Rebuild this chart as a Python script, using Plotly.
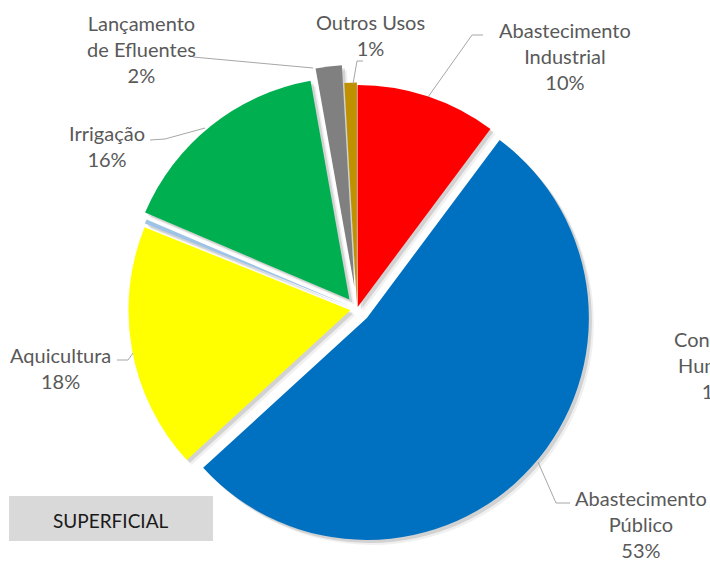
import plotly.graph_objects as go

# ── Data ──────────────────────────────────────────────────────────────────────
usos = [
    "Abastecimento Industrial",
    "Abastecimento Público",
    "Aquicultura",
    "Consumo Humano",
    "Irrigação",
    "Lançamento de Efluentes",
    "Outros Usos",
]
valores = [10.2, 53.0, 17.9, 0.3, 15.8, 1.9, 0.9]
rotulos = [
    "Abastecimento<br>Industrial",
    "Abastecimento<br>Público",
    "Aquicultura",
    "Consumo<br>Humano",
    "Irrigação",
    "Lançamento<br>de Efluentes",
    "Outros Usos",
]
titulo = "SUPERFICIAL"

# ── Style ─────────────────────────────────────────────────────────────────────
CORES = ["#FF0000", "#0070C0", "#FFFF00", "#9DC3E6", "#00B050", "#808080", "#BF9000"]
PULL = [0.01, 0.06, 0.03, 0.03, 0.055, 0.10, 0.02]
C_LABEL = "#595959"
C_LINE = "#A6A6A6"
FONT = "Lato, sans-serif"
W, H = 710, 561

# pie centre / size in px (unexploded radius ~222)
CX, CY, R = 357, 309, 222
HALF = R * (1 + max(PULL))


def dom(dx=0, dy=0):
    return dict(
        x=[(CX - HALF + dx) / W, (CX + HALF + dx) / W],
        y=[1 - (CY + HALF + dy) / H, 1 - (CY - HALF + dy) / H],
    )


def px(x, y):
    return x / W, 1 - y / H


fig = go.Figure()

# soft drop shadow (two offset layers)
for off, alpha in [(5, 0.06), (3, 0.12)]:
    fig.add_trace(go.Pie(
        labels=usos, values=valores, sort=False, direction="clockwise",
        rotation=0, pull=PULL, textinfo="none", hoverinfo="skip",
        marker=dict(colors=[f"rgba(0,0,0,{alpha})"] * len(usos), line=dict(width=0)),
        domain=dom(off, off), showlegend=False,
    ))

fig.add_trace(go.Pie(
    labels=usos, values=valores, sort=False, direction="clockwise",
    rotation=0, pull=PULL, textinfo="none",
    marker=dict(colors=CORES, line=dict(width=0)),
    domain=dom(), showlegend=False,
    hovertemplate="<b>%{label}</b><br>%{percent}<extra></extra>",
))

# ── Labels (positions in px) ──────────────────────────────────────────────────
total = sum(valores)
pcts = [f"{round(v / total * 100)}%" for v in valores]
pcts[3] = "1%"  # as printed in the (cropped) reference label

label_pos = [
    (565, 56),   # Industrial
    (641, 524),  # Público
    (60, 368),   # Aquicultura
    (715, 365),  # Consumo Humano (cut by the frame, as in the reference)
    (107, 146),  # Irrigação
    (141, 49),   # Lançamento
    (370, 35),   # Outros
]
for txt, pct, (x, y) in zip(rotulos, pcts, label_pos):
    ax, ay = px(x, y)
    fig.add_annotation(
        text=f"{txt}<br>{pct}", x=ax, y=ay, xref="paper", yref="paper",
        xanchor="center", yanchor="middle", showarrow=False, align="center",
        font=dict(family=FONT, size=20, color=C_LABEL),
    )

# leader lines
leaders = [
    [(483, 35), (472, 35), (428, 97)],
    [(570, 503), (556, 503), (538, 462)],
    [(117, 360), (128, 360), (133, 353)],
    [(150, 140), (165, 139), (205, 128)],
    [(193, 57), (313, 68)],
    [(353, 84), (357, 61), (363, 61)],
]
for pts in leaders:
    path = "M " + " L ".join(f"{px(x, y)[0]},{px(x, y)[1]}" for x, y in pts)
    fig.add_shape(type="path", path=path, xref="paper", yref="paper",
                  line=dict(color=C_LINE, width=1))

# title box
x0, y0 = px(9, 541)
x1, y1 = px(213, 496)
fig.add_shape(type="rect", x0=x0, y0=y0, x1=x1, y1=y1, xref="paper", yref="paper",
              fillcolor="#D9D9D9", line=dict(width=0), layer="below")
tx, ty = px(111, 520)
fig.add_annotation(text=titulo, x=tx, y=ty, xref="paper", yref="paper",
                   xanchor="center", yanchor="middle", showarrow=False,
                   font=dict(family=FONT, size=19, color="#1A1A1A"))

fig.update_layout(
    width=W, height=H,
    margin=dict(l=0, r=0, t=0, b=0),
    paper_bgcolor="#FFFFFF", plot_bgcolor="#FFFFFF",
    showlegend=False,
    font=dict(family=FONT, color=C_LABEL),
)

fig.write_html(
    "out.html",
    config={"displayModeBar": False},
    post_script="document.body.style.margin='0';",
)
